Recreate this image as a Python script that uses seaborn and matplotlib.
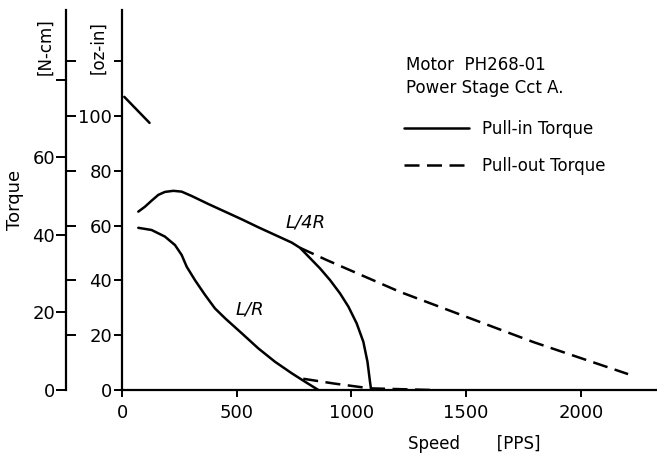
import pandas as pd
import numpy as np
import matplotlib as mpl
mpl.use("Agg")
import matplotlib.pyplot as plt
from matplotlib.lines import Line2D
import seaborn as sns

### DATA ###
# speed [PPS] vs torque [oz-in]
top_speed = [10, 120]
top_torque = [107, 97.5]

l4r_in_speed = [71, 100, 129, 158, 187, 224, 260, 304, 376, 449, 522, 594, 667, 740, 776,
                820, 863, 907, 950, 987, 1023, 1052, 1070, 1081, 1086]
l4r_in_torque = [65.1, 66.9, 69.1, 71.2, 72.3, 72.7, 72.4, 70.8, 67.9, 65.1, 62.3, 59.4, 56.6, 53.8, 51.9,
                 48.1, 44.4, 40.1, 35.3, 30.4, 24.3, 17.6, 10.3, 3.0, 0]

l4r_out_speed = [776, 893, 1212, 1504, 1793, 2206]
l4r_out_torque = [51.9, 47.4, 35.8, 26.6, 17.5, 5.8]

lr_in_speed = [71, 129, 187, 231, 260, 282, 318, 362, 405, 449, 522, 594, 667, 740, 798, 856]
lr_in_torque = [59.2, 58.4, 56.0, 52.9, 49.3, 45.0, 40.1, 34.7, 29.8, 26.2, 20.7, 15.2, 10.3, 6.1, 3.0, 0]

lr_out_speed = [790, 921, 1081, 1350]
lr_out_torque = [4.1, 2.4, 0.6, 0]

OZIN_PER_NCM = 1.41612
ozin_ticks = [0, 20, 40, 60, 80, 100, 120]
ozin_labels = ["0", "20", "40", "60", "80", "100", ""]
ncm_ticks = [0, 20, 40, 60, 80]
ncm_labels = ["0", "20", "40", "60", ""]
speed_ticks = [0, 500, 1000, 1500, 2000]

### BUILD TIDY FRAME ###
parts = []
for name, kind, xs, ys in [
    ("start", "Pull-in Torque", top_speed, top_torque),
    ("L/4R in", "Pull-in Torque", l4r_in_speed, l4r_in_torque),
    ("L/4R out", "Pull-out Torque", l4r_out_speed, l4r_out_torque),
    ("L/R in", "Pull-in Torque", lr_in_speed, lr_in_torque),
    ("L/R out", "Pull-out Torque", lr_out_speed, lr_out_torque),
]:
    parts.append(pd.DataFrame({"Speed": xs, "Torque": ys, "curve": name, "kind": kind}))
df = pd.concat(parts, ignore_index=True)

### PLOT ###
sns.set_style("ticks", rc={"text.color": "black", "axes.labelcolor": "black",
                           "xtick.color": "black", "ytick.color": "black", "axes.edgecolor": "black"})
plt.rcParams['font.family'] = ['DejaVu Sans']
fig = plt.figure(figsize=(6.57, 4.58), dpi=100)
ax = fig.add_axes([122/657, 1 - 390/458, 535/657, 380/458])

dashes = {"Pull-in Torque": "", "Pull-out Torque": (6, 3)}
sns.lineplot(data=df, x="Speed", y="Torque", units="curve", style="kind", dashes=dashes,
             estimator=None, sort=False, color="black", linewidth=1.8, legend=False, ax=ax)

ax.set_xlim(0, 2332)
ax.set_ylim(0, 138.7)
sns.despine(ax=ax)
for s in ["left", "bottom"]:
    ax.spines[s].set_linewidth(1.6)

ax.set_xticks(speed_ticks)
ax.set_yticks(ozin_ticks)
ax.set_yticklabels(ozin_labels)
ax.tick_params(axis="x", length=5, width=1.4, pad=5, labelsize=13)
ax.tick_params(axis="y", length=6, width=1.4, pad=1, labelsize=13)
ax.set_ylabel("")
ax.set_xlabel("Speed       [PPS]", fontsize=12)
ax.xaxis.set_label_coords((474 - 122) / 535, -0.118)

# N-cm scale on a second spine further left
sec = ax.secondary_yaxis(-56/535, functions=(lambda oz: oz / OZIN_PER_NCM, lambda n: n * OZIN_PER_NCM))
sec.spines["left"].set_linewidth(1.6)
sec.set_yticks(ncm_ticks)
sec.set_yticklabels(ncm_labels)
sec.set_yticks([v / OZIN_PER_NCM for v in ozin_ticks[1:]], minor=True)
sec.tick_params(axis="y", which="major", length=7, width=1.4, pad=1, labelsize=13)
sec.tick_params(axis="y", which="minor", direction="in", length=7, width=1.4)
sec.set_ylabel("Torque", fontsize=13, labelpad=6)

fig.text(45/657, 1 - 47/458, "[N-cm]", rotation=90, ha="center", va="center", fontsize=12)
fig.text(98/657, 1 - 48/458, "[oz-in]", rotation=90, ha="center", va="center", fontsize=12)

# curve labels
ax.text(802, 61.3, "L/4R", style="italic", fontsize=13, ha="center", va="center")
ax.text(558, 29.2, "L/R", style="italic", fontsize=13, ha="center", va="center")

# legend: header lines then the two line styles
fig.text(406/657, 1 - 65/458, "Motor  PH268-01", fontsize=12, ha="left", va="center")
fig.text(406/657, 1 - 88/458, "Power Stage Cct A.", fontsize=12, ha="left", va="center")
handles = [Line2D([], [], color="black", linewidth=1.8),
           Line2D([], [], color="black", linewidth=1.8, dashes=(6, 3))]
leg = ax.legend(handles, ["Pull-in Torque", "Pull-out Torque"], fontsize=12,
                frameon=False, loc="upper left", bbox_to_anchor=(404/657, 1 - 120/458),
                bbox_transform=fig.transFigure, handlelength=3.9, handletextpad=0.8,
                labelspacing=1.15, borderpad=0, borderaxespad=0)

fig.savefig("out.png", dpi=100)
